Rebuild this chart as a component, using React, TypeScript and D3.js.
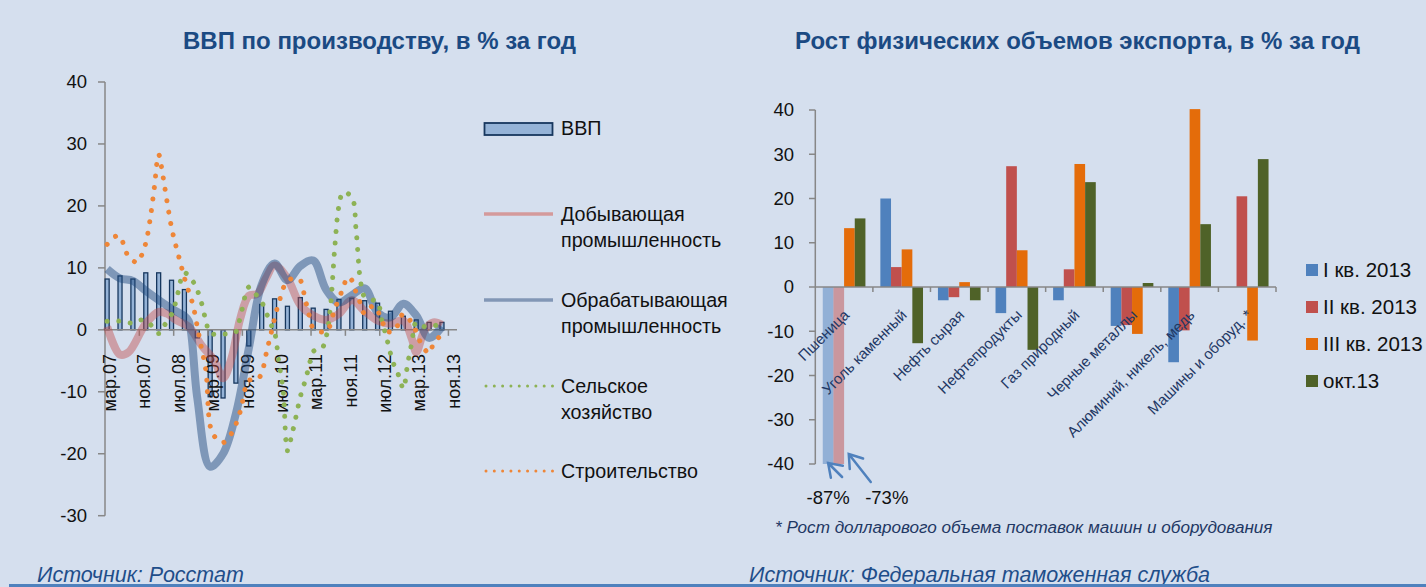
import * as d3 from 'd3'

const W = 1426
const H = 587
const BG = '#D5DFEE'
const TITLE = '#1B4A83'
const DARK = '#1F3864'
const AXIS = '#878787'
const FONT = "'Liberation Sans', Arial, sans-serif"

// ---------- left chart: ВВП по производству ----------
const monthNames = ['янв', 'фев', 'мар', 'апр', 'май', 'июн', 'июл', 'авг', 'сен', 'окт', 'ноя', 'дек']
// monthly categories from мар.07 to дек.13
const months = d3.range(82).map(i => {
    const m = (2 + i) % 12
    const y = 2007 + Math.floor((2 + i) / 12)
    return `${monthNames[m]}.${String(y).slice(2)}`
})
const gdpTickLabels = ['мар.07', 'ноя.07', 'июл.08', 'мар.09', 'ноя.09', 'июл.10', 'мар.11', 'ноя.11', 'июл.12', 'мар.13', 'ноя.13']
const gdpTicks = [40, 30, 20, 10, 0, -10, -20, -30]

const gdpMonths = ['мар.07', 'июн.07', 'сен.07', 'дек.07', 'мар.08', 'июн.08', 'сен.08', 'дек.08',
    'мар.09', 'июн.09', 'сен.09', 'дек.09', 'мар.10', 'июн.10', 'сен.10', 'дек.10',
    'мар.11', 'июн.11', 'сен.11', 'дек.11', 'мар.12', 'июн.12', 'сен.12', 'дек.12',
    'мар.13', 'июн.13', 'сен.13']
const gdpValues = [8.2, 8.7, 8.2, 9.2, 9.2, 8.0, 6.5, -1.3, -10.8, -11.0, -8.6, -2.6, 4.1, 5.0, 3.8, 5.2,
    3.5, 3.3, 4.9, 5.1, 4.7, 4.3, 3.0, 2.2, 1.6, 1.2, 1.2]

// line series: month offset from мар.07 -> value
const miningIdx = [0, 3, 5, 9, 12, 14, 16, 19, 22, 25, 27, 29, 31, 33, 35, 37, 39, 42, 45, 48, 51, 54, 57, 60, 63, 66, 69, 71, 72, 74, 76, 78]
const miningVal = [0.5, -4.0, -3.6, 1.0, 2.9, 2.6, 1.6, 0.5, -2.5, -5.0, -7.8, -4.5, 1.8, 5.5, 5.8, 8.3, 10.4, 8.3, 4.0, 2.3, 1.6, 2.6, 4.8, 3.0, 1.5, 1.0, 1.5, -1.5, -3.6, 0.0, 1.2, 0.8]

const manufIdx = [0, 3, 6, 9, 12, 15, 18, 19, 21, 24, 27, 30, 33, 36, 39, 42, 45, 48, 51, 54, 57, 60, 63, 66, 69, 72, 75, 78]
const manufVal = [9.8, 8.3, 7.9, 6.3, 4.8, 3.4, 2.2, 1.4, -11.0, -22.1, -20.0, -13.5, -3.0, 7.3, 10.7, 8.0, 10.3, 11.2, 6.5, 4.4, 5.6, 6.7, 2.8, 2.0, 4.2, 2.3, -1.3, 0.5]

const agriIdx = [0, 3, 6, 8, 10, 12, 13, 15, 16, 18, 20, 21, 22, 23, 24, 27, 30, 31, 33, 34, 36, 38, 39, 40, 41, 42, 43, 44, 45, 46, 47, 48, 50, 51, 52, 53, 54, 55, 57, 58, 59, 60, 62, 63, 64, 65, 66, 67, 68, 69, 70, 71, 72, 74, 77]
const agriVal = [1.4, 1.4, 1.1, 1.6, 0.9, -0.6, 0.4, 2.5, 4.5, 9.2, 7.8, 6.4, 4.3, 1.5, -0.5, -0.7, -0.3, 2.0, 6.9, 6.2,
    4.5, 1.1, -0.4, -5.2, -9.8, -19.5, -17.0, -14.0, -10.8, -8.5, -6.0, -3.5, -3.0, -1.2, 3.5, 13.0, 20.0, 22.2, 21.4, 16.0,
    8.0, 5.3, 4.8, 4.5, 1.5, -1.0, -3.8, -6.0, -7.5, -9.5, -5.5, -2.0, 1.2, 0.5, 0.8]

const constrIdx = [0, 2, 3, 4, 5, 7, 8, 9, 10, 11, 12, 13, 14, 15, 16, 17, 18, 19, 20, 21, 22, 23, 24, 25, 27, 29, 31, 33, 35, 36, 37, 38, 40, 42, 44, 45, 46, 47, 48, 51, 53, 55, 56, 57, 58, 59, 60, 62, 64, 65, 67, 68, 69, 71, 72, 73, 75, 76, 78]
const constrVal = [13.8, 15.1, 15.1, 13.4, 11.8, 10.9, 12.0, 14.0, 17.8, 23.0, 28.3, 24.8, 20.5, 16.5, 13.6, 11.0, 8.4, 6.2, 4.0, 0.5,
    -3.0, -6.6, -15.5, -17.2, -18.2, -16.7, -13.2, -8.2, -8.0, -7.0, -4.0, -1.1, 4.4, 7.9, 8.3, 8.0, 5.4, 2.5, 0.3, -0.3,
    3.3, 6.8, 8.5, 8.0, 6.0, 4.3, 2.6, 3.9, 1.6, -0.2, -0.2, 1.4, 2.6, 1.1, -0.3, -2.0, -3.8, -2.3, -0.7]

// ---------- right chart: экспорт ----------
const exportCategories = ['Пшеница', 'Уголь каменный', 'Нефть сырая', 'Нефтепродукты', 'Газ природный',
    'Черные металлы', 'Алюминий, никель, медь', 'Машины и оборуд. *']
const exportSeries = ['I кв. 2013', 'II кв. 2013', 'III кв. 2013', 'окт.13']
const exportQ1 = [-87, 20.0, -3.0, -5.9, -3.0, -8.8, -17.0, null]
const exportQ2 = [-73, 4.5, -2.3, 27.3, 4.0, -8.6, -9.8, 20.5]
const exportQ3 = [13.3, 8.5, 1.1, 8.3, 27.8, -10.6, 40.2, -12.1]
const exportOct = [15.5, -12.7, -3.0, -14.2, 23.7, 0.9, 14.2, 28.9]
const exportTicks = [40, 30, 20, 10, 0, -10, -20, -30, -40]
const exportColors = ['#4F81BD', '#C0504D', '#E46C0A', '#4F6228']

export default function App() {
    // left scales
    const xL = d3.scaleBand<string>().domain(months).range([105, 457])
    const yL = d3.scaleLinear().domain([-30, 40]).range([515.7, 82])
    const mid = (m: string) => (xL(m) ?? 0) + xL.bandwidth() / 2
    const lineGen = d3.line<[number, number]>()
        .x(d => mid(months[d[0]]))
        .y(d => yL(d[1]))
        .curve(d3.curveCatmullRom.alpha(0.5))
    const path = (idx: number[], val: number[]) =>
        lineGen(idx.map((m, k) => [m, val[k]] as [number, number])) ?? ''

    // right scales
    const xR = d3.scaleBand<string>().domain(exportCategories).range([815.3, 1276])
    const xR1 = d3.scaleBand<string>().domain(exportSeries).range([0, xR.bandwidth()]).paddingOuter(0.7)
    const yR = d3.scaleLinear().domain([-40, 40]).range([464, 110])
    const exportData = [exportQ1, exportQ2, exportQ3, exportOct]

    const legendL = [
        { lines: ['Добывающая', 'промышленность'], y: 214, kind: 'mining' },
        { lines: ['Обрабатывающая', 'промышленность'], y: 300, kind: 'manuf' },
        { lines: ['Сельское', 'хозяйство'], y: 386, kind: 'agri' },
        { lines: ['Строительство'], y: 471, kind: 'constr' },
    ]

    const clipped: { x: number, v: number, k: number }[] = []

    return (
        <svg width={W} height={H} style={{ position: 'absolute', left: 0, top: 0 }} fontFamily={FONT}>
            <rect width={W} height={H} fill={BG} />

            {/* titles */}
            <text x={379.5} y={49} textAnchor="middle" fontSize={24} fontWeight="bold" fill={TITLE}>
                ВВП по производству, в % за год
            </text>
            <text x={1077.5} y={49} textAnchor="middle" fontSize={24} fontWeight="bold" fill={TITLE}>
                Рост физических объемов экспорта, в % за год
            </text>

            {/* ---- left chart ---- */}
            <g>
                <line x1={105} x2={105} y1={yL(40)} y2={yL(-30)} stroke={AXIS} strokeWidth={1.5} />
                {gdpTicks.map(t => (
                    <g key={t}>
                        <line x1={98} x2={105} y1={yL(t)} y2={yL(t)} stroke={AXIS} strokeWidth={1.5} />
                        <text x={87} y={yL(t)} dy="0.35em" textAnchor="end" fontSize={18.5} fill="#111">{t}</text>
                    </g>
                ))}
                {gdpMonths.map((m, k) => {
                    const v = gdpValues[k]
                    return (
                        <rect key={m} x={mid(m) - 2} width={4}
                              y={yL(Math.max(0, v))} height={Math.abs(yL(v) - yL(0))}
                              fill="#95B3D7" stroke="#17375E" strokeWidth={1.3} />
                    )
                })}
                <line x1={105} x2={457} y1={yL(0)} y2={yL(0)} stroke={AXIS} strokeWidth={1.5} />
                {gdpTickLabels.map((m, k) => (
                    <g key={m}>
                        {k > 0 && <line x1={xL(m)} x2={xL(m)} y1={yL(0)} y2={yL(0) + 6} stroke={AXIS} strokeWidth={1.5} />}
                        <text transform={`translate(${mid(m) + 3},354) rotate(-90)`} textAnchor="end"
                              dominantBaseline="central" fontSize={18} fill="#111">{m}</text>
                    </g>
                ))}

                <path d={path(miningIdx, miningVal)} fill="none" stroke="#C0504D" strokeOpacity={0.45}
                      strokeWidth={8} strokeLinejoin="round" />
                <path d={path(manufIdx, manufVal)} fill="none" stroke="#1F497D" strokeOpacity={0.48}
                      strokeWidth={8} strokeLinejoin="round" />
                <path d={path(agriIdx, agriVal)} fill="none" stroke="#8DB255" strokeWidth={5}
                      strokeDasharray="0.01 11.5" strokeLinecap="round" />
                <path d={path(constrIdx, constrVal)} fill="none" stroke="#EE8638" strokeWidth={5}
                      strokeDasharray="0.01 11.5" strokeLinecap="round" />
            </g>

            {/* left legend */}
            <g fontSize={19.7} fill="#111">
                <rect x={484.5} y={123} width={68} height={12} fill="#95B3D7" stroke="#17375E" strokeWidth={1.8} />
                <text x={561} y={135}>ВВП</text>
                {legendL.map(l => (
                    <g key={l.kind}>
                        {l.kind === 'mining' && <line x1={484} x2={553} y1={l.y} y2={l.y} stroke="#D49A9B" strokeWidth={3.5} />}
                        {l.kind === 'manuf' && <line x1={484} x2={553} y1={l.y} y2={l.y} stroke="#8297B6" strokeWidth={3.5} />}
                        {l.kind === 'agri' && <line x1={486} x2={553} y1={l.y} y2={l.y} stroke="#8DB255" strokeWidth={3}
                                                    strokeDasharray="0.01 8.3" strokeLinecap="round" />}
                        {l.kind === 'constr' && <line x1={486} x2={553} y1={l.y} y2={l.y} stroke="#EE8638" strokeWidth={3}
                                                      strokeDasharray="0.01 8.3" strokeLinecap="round" />}
                        {l.lines.map((t, j) => (
                            <text key={t} x={561} y={l.y + 7 + j * 26}>{t}</text>
                        ))}
                    </g>
                ))}
            </g>

            {/* ---- right chart ---- */}
            <g>
                {exportSeries.map((s, si) => exportData[si].map((v, ci) => {
                    if (v === null) return null
                    const c = exportCategories[ci]
                    const x = (xR(c) ?? 0) + (xR1(s) ?? 0)
                    const cv = Math.max(v, -40)
                    if (v < -40) clipped.push({ x: x + xR1.bandwidth() / 2, v, k: si })
                    return (
                        <rect key={s + c} x={x} width={xR1.bandwidth()} y={yR(Math.max(0, cv))}
                              height={Math.abs(yR(cv) - yR(0))} fill={exportColors[si]}
                              fillOpacity={v < -40 ? 0.5 : 1} />
                    )
                }))}
                <line x1={815.3} x2={815.3} y1={yR(40)} y2={yR(-40)} stroke={AXIS} strokeWidth={1.5} />
                {exportTicks.map(t => (
                    <g key={t}>
                        <line x1={809} x2={815.3} y1={yR(t)} y2={yR(t)} stroke={AXIS} strokeWidth={1.5} />
                        <text x={794} y={yR(t)} dy="0.35em" textAnchor="end" fontSize={18.5} fill="#111">{t}</text>
                    </g>
                ))}
                <line x1={815.3} x2={1276} y1={yR(0)} y2={yR(0)} stroke={AXIS} strokeWidth={1.5} />
                {exportCategories.map(c => (
                    <line key={c} x1={(xR(c) ?? 0) + xR.bandwidth()} x2={(xR(c) ?? 0) + xR.bandwidth()}
                          y1={yR(0)} y2={yR(0) + 5} stroke={AXIS} strokeWidth={1.5} />
                ))}
                {exportCategories.map(c => (
                    <text key={c} transform={`translate(${(xR(c) ?? 0) + xR.bandwidth() / 2 + 6},316) rotate(-45)`}
                          textAnchor="end" fontSize={15} fill={DARK}>{c}</text>
                ))}

                {/* values beyond the axis */}
                {clipped.map(d => {
                    const tx = d.k === 0 ? d.x : d.x + 48
                    const head = d.k === 0 ? [d.x, 463] : [d.x + 10, 454]
                    const tail = d.k === 0 ? [d.x + 14, 477] : [d.x + 32, 482]
                    const ang = Math.atan2(tail[1] - head[1], tail[0] - head[0])
                    const wing = (a: number) => [head[0] + 15 * Math.cos(ang + a), head[1] + 15 * Math.sin(ang + a)]
                    const w1 = wing(0.6), w2 = wing(-0.6)
                    return (
                        <g key={d.k}>
                            <path d={`M${tail[0]},${tail[1]}L${head[0]},${head[1]}M${w1[0]},${w1[1]}L${head[0]},${head[1]}L${w2[0]},${w2[1]}`}
                                  fill="none" stroke="#4F81BD" strokeWidth={2.5} strokeLinecap="round" />
                            <text x={tx} y={504} textAnchor="middle" fontSize={18.5} fill="#111">{d.v}%</text>
                        </g>
                    )
                })}

                <text x={775} y={533} fontSize={17.1} fontStyle="italic" fill={DARK}>
                    * Рост долларового объема поставок машин и оборудования
                </text>
            </g>

            {/* right legend */}
            <g fontSize={20.5} fill="#111">
                {exportSeries.map((s, i) => (
                    <g key={s}>
                        <rect x={1306} y={264 + i * 37} width={12} height={12} fill={exportColors[i]} />
                        <text x={1323} y={270 + i * 37} dy="0.35em">{s}</text>
                    </g>
                ))}
            </g>

            {/* sources */}
            <g fontSize={21.5} fontStyle="italic" fill="#1F4E8A">
                <text x={37} y={582}>Источник: Росстат</text>
                <text x={749} y={582}>Источник: Федеральная таможенная служба</text>
            </g>
            <line x1={9} x2={W} y1={585.5} y2={585.5} stroke="#4F81BD" strokeWidth={3} />
        </svg>
    )
}
